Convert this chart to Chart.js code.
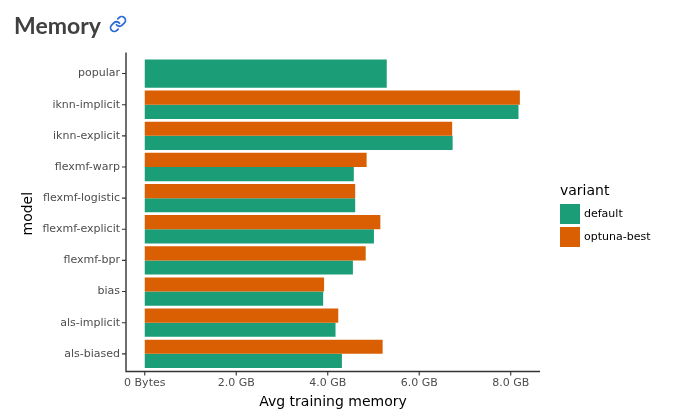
<!DOCTYPE html>
<html>
<head>
<meta charset="utf-8">
<script src="https://cdn.jsdelivr.net/npm/chart.js@4/dist/chart.umd.min.js"></script>
<style>
  html, body { margin:0; padding:0; background:#fff; }
  body { width:680px; height:417px; position:relative; overflow:hidden; font-family:"DejaVu Sans", sans-serif; }
  #wrap { position:absolute; left:0; top:0; width:680px; height:417px; }
  #title { position:absolute; left:14px; top:9px; font-family:Lato, "DejaVu Sans", sans-serif; font-weight:bold; font-size:23px; color:#404040; line-height:32px; }
  #link { position:absolute; left:109px; top:15px; width:18px; height:18px; }
  #legend { position:absolute; left:560px; top:181px; font-family:"DejaVu Sans", sans-serif; }
  #legend .lt { font-size:14px; color:#000; line-height:18px; margin-bottom:3px; }
  #legend .row { display:flex; align-items:center; height:23px; }
  #legend .sw { width:20px; height:20px; margin-right:4px; }
  #legend .lab { font-size:11px; color:#000; }
</style>
</head>
<body>
<div id="wrap"><canvas id="c" width="680" height="417"></canvas></div>
<div id="title">Memory</div>
<svg id="link" viewBox="0 0 24 24" fill="none" stroke="#2f6bd4" stroke-width="2.4" stroke-linecap="round" stroke-linejoin="round">
  <path d="M10 13a5 5 0 0 0 7.54.54l3-3a5 5 0 0 0-7.07-7.07l-1.72 1.71"/>
  <path d="M14 11a5 5 0 0 0-7.54-.54l-3 3a5 5 0 0 0 7.07 7.07l1.71-1.71"/>
</svg>
<div id="legend"></div>
<script>
// ---- data (GB) ----
const categories = ["popular","iknn-implicit","iknn-explicit","flexmf-warp","flexmf-logistic","flexmf-explicit","flexmf-bpr","bias","als-implicit","als-biased"];
const defaultMem = [5.29, 8.17, 6.73, 4.57, 4.60, 5.01, 4.55, 3.90, 4.17, 4.31];
const optunaMem  = [null, 8.20, 6.72, 4.85, 4.60, 5.15, 4.83, 3.92, 4.23, 5.20];
const seriesNames = ["default", "optuna-best"];
const seriesColors = ["#1B9E77", "#D95F02"];
const xTicks = [0, 2, 4, 6, 8];

// legend (HTML)
const lg = document.getElementById('legend');
lg.innerHTML = '<div class="lt">variant</div>' + seriesNames.map((n,i)=>
  '<div class="row"><div class="sw" style="background:'+seriesColors[i]+'"></div><span class="lab">'+n+'</span></div>').join('');

const TOP = 58, BOTTOM = 369.4, LEFT = 126, RIGHT = 540, H = 417;
const PANEL_TOP = 52.5, PANEL_BOTTOM = 371.5;
const axisColor = '#333333';

const axisPlugin = {
  id: 'ggAxes',
  afterDraw(chart) {
    const ctx = chart.ctx, a = chart.chartArea;
    const ys = chart.scales.y, xs = chart.scales.x;
    ctx.save();
    ctx.strokeStyle = axisColor;
    ctx.lineWidth = 1.4;
    ctx.beginPath();
    ctx.moveTo(a.left, PANEL_TOP); ctx.lineTo(a.left, PANEL_BOTTOM + 0.7);
    ctx.moveTo(a.left - 0.7, PANEL_BOTTOM); ctx.lineTo(a.right, PANEL_BOTTOM);
    ctx.stroke();
    ctx.lineWidth = 1.1;
    ctx.beginPath();
    xs.ticks.forEach(t => {
      const px = xs.getPixelForValue(t.value);
      ctx.moveTo(px, PANEL_BOTTOM); ctx.lineTo(px, PANEL_BOTTOM + 4);
    });
    categories.forEach((c, i) => {
      const py = ys.getPixelForValue(i);
      ctx.moveTo(a.left, py); ctx.lineTo(a.left - 4, py);
    });
    ctx.stroke();
    ctx.restore();
  }
};

new Chart(document.getElementById('c'), {
  type: 'bar',
  data: {
    labels: categories,
    datasets: [
      { label: seriesNames[1], data: optunaMem, backgroundColor: seriesColors[1], borderWidth: 0, skipNull: true },
      { label: seriesNames[0], data: defaultMem, backgroundColor: seriesColors[0], borderWidth: 0, skipNull: true }
    ]
  },
  options: {
    indexAxis: 'y',
    responsive: false,
    animation: false,
    devicePixelRatio: 1,
    layout: { padding: { top: TOP, bottom: 0, left: 0, right: 680 - RIGHT } },
    datasets: { bar: { categoryPercentage: 0.91, barPercentage: 1.0 } },
    plugins: { legend: { display: false }, tooltip: { enabled: false } },
    scales: {
      x: {
        type: 'linear',
        min: -0.41, max: 8.64,
        afterFit(s) { s.height = H - BOTTOM; },
        border: { display: false },
        grid: { display: false, drawTicks: false },
        ticks: {
          includeBounds: false,
          autoSkip: false,
          maxRotation: 0,
          padding: 7.5,
          color: '#4d4d4d',
          font: { family: 'DejaVu Sans', size: 11 },
          callback: (v) => v === 0 ? '0 Bytes' : v.toFixed(1) + ' GB'
        },
        afterBuildTicks(s) { s.ticks = xTicks.map(v => ({ value: v })); },
        title: { display: true, text: 'Avg training memory', color: '#000', font: { family: 'DejaVu Sans', size: 14 }, padding: { top: 0, bottom: 6.6 } }
      },
      y: {
        type: 'category',
        offset: true,
        afterFit(s) { s.width = LEFT; },
        border: { display: false },
        grid: { display: false, drawTicks: false },
        ticks: {
          padding: 6,
          color: '#4d4d4d',
          autoSkip: false,
          font: { family: 'DejaVu Sans', size: 11 }
        },
        title: { display: true, text: 'model', color: '#000', font: { family: 'DejaVu Sans', size: 14 }, padding: { top: 19.6, bottom: 0 } }
      }
    }
  },
  plugins: [axisPlugin]
});
</script>
</body>
</html>
